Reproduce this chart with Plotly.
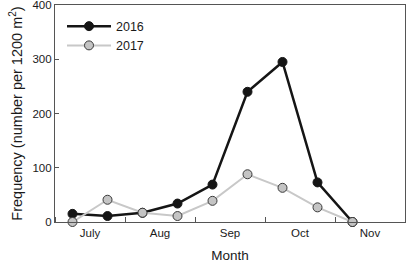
import plotly.graph_objects as go

x_pos = [0.25, 0.75, 1.25, 1.75, 2.25, 2.75, 3.25, 3.75, 4.25]
y2016 = [15, 11, 17, 34, 69, 240, 295, 73, 0]
y2017 = [0, 41, 17, 11, 39, 88, 63, 27, 0]
month_pos = [0.5, 1.5, 2.5, 3.5, 4.5]
month_labels = ["July", "Aug", "Sep", "Oct", "Nov"]

font = "Liberation Sans, Arial, sans-serif"
fig = go.Figure()
fig.add_trace(go.Scatter(
    x=x_pos, y=y2016, name="2016", mode="lines+markers",
    line=dict(color="#151515", width=2.5),
    marker=dict(size=9, color="#151515", line=dict(color="#151515", width=1)),
    cliponaxis=False))
fig.add_trace(go.Scatter(
    x=x_pos, y=y2017, name="2017", mode="lines+markers",
    line=dict(color="#c8c8c8", width=2),
    marker=dict(size=9, color="#c4c4c4", line=dict(color="#3a3a3a", width=1)),
    cliponaxis=False))

fig.update_layout(
    width=407, height=263,
    margin=dict(l=55, r=2, t=5, b=41, autoexpand=False),
    plot_bgcolor="white", paper_bgcolor="white",
    font=dict(family=font, size=11.5, color="#1a1a1a"),
    showlegend=True,
    legend=dict(x=0.02, y=0.97, xanchor="left", yanchor="top",
                bgcolor="rgba(0,0,0,0)", font=dict(size=12.5),
                tracegroupgap=0, itemwidth=44),
    xaxis=dict(range=[0, 5], tickvals=month_pos, ticktext=month_labels,
               ticks="", showgrid=False, zeroline=False, automargin=False,
               showline=True, linecolor="#555", linewidth=1.2, mirror=True,
               minor=dict(tick0=0, dtick=1, ticks="inside", ticklen=5,
                          tickcolor="#555", showgrid=False),
               title=dict(text="Month", font=dict(size=13.5), standoff=12),
               tickfont=dict(size=11.5)),
    yaxis=dict(range=[0, 400], tickvals=[0, 100, 200, 300, 400],
               ticks="inside", ticklen=4, tickcolor="#555", automargin=False,
               ticklabeloverflow="allow",
               showgrid=False, zeroline=False,
               showline=True, linecolor="#555", linewidth=1.2, mirror=True,
               title=dict(text="Frequency (number per 1200 m<sup>2</sup>)",
                          font=dict(size=14.5), standoff=6),
               tickfont=dict(size=11.5)),
)
fig.write_html("out.html", config={"displayModeBar": False},
               post_script="document.body.style.margin='0';document.body.style.overflow='hidden';")
